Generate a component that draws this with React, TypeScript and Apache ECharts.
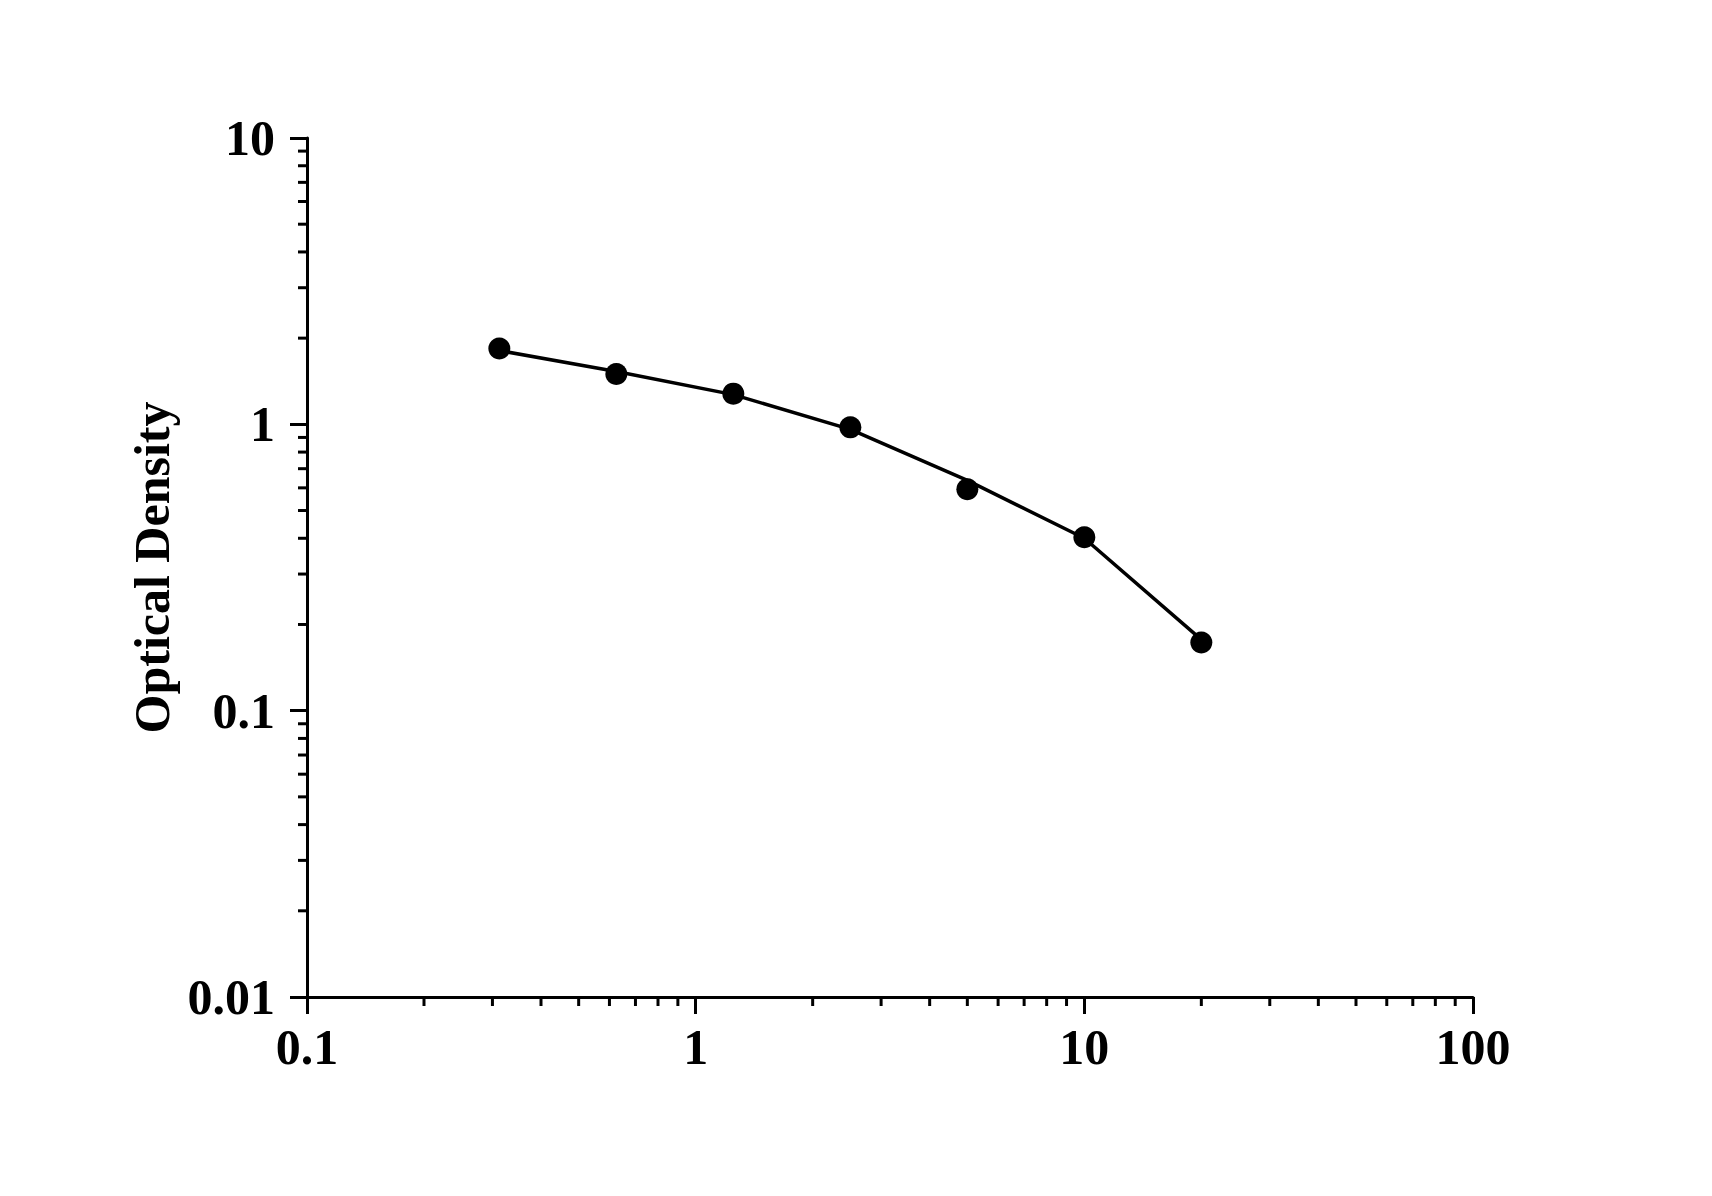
import React, { useEffect, useRef } from "react";
import * as echarts from "echarts";

const concentrations = [0.3125, 0.625, 1.25, 2.5, 5, 10, 20];
const measuredOD = [1.84, 1.5, 1.28, 0.976, 0.593, 0.403, 0.173];
const fittedOD = [1.81, 1.53, 1.27, 0.96, 0.637, 0.4, 0.177];
const xTickValues = [0.1, 1, 10, 100];
const yTickValues = [0.01, 0.1, 1, 10];
const minorMultipliers = [2, 3, 4, 5, 6, 7, 8, 9];

const FONT = "'Liberation Serif', 'Times New Roman', serif";

export default function App() {
  const ref = useRef<HTMLDivElement>(null);
  useEffect(() => {
    if (!ref.current) return;
    const chart = echarts.init(ref.current, null, { renderer: "svg" });
    const xMin = xTickValues[0];
    const xMax = xTickValues[xTickValues.length - 1];
    const yMin = yTickValues[0];
    const yMax = yTickValues[yTickValues.length - 1];

    const xMinor: number[][] = [];
    xTickValues.slice(0, -1).forEach((d) =>
      minorMultipliers.forEach((m) => xMinor.push([+(d * m).toPrecision(3), yMin, 0]))
    );
    const yMinor: number[][] = [];
    yTickValues.slice(0, -1).forEach((d) =>
      minorMultipliers.forEach((m) => yMinor.push([xMin, +(d * m).toPrecision(3), 1]))
    );

    const fmt = (v: number) => String(+Number(v).toPrecision(3));

    chart.setOption({
      animation: false,
      backgroundColor: "#ffffff",
      grid: { left: 307, right: 239, top: 138, bottom: 199, containLabel: false },
      xAxis: {
        type: "log",
        logBase: 10,
        min: xMin,
        max: xMax,
        axisLine: { show: true, lineStyle: { color: "#000", width: 3 } },
        axisTick: { show: true, length: 17, lineStyle: { color: "#000", width: 3 } },
        axisLabel: {
          color: "#000",
          fontFamily: FONT,
          fontWeight: "bold",
          fontSize: 50,
          margin: 25,
          formatter: fmt,
        },
        splitLine: { show: false },
        minorTick: { show: false },
      },
      yAxis: {
        type: "log",
        logBase: 10,
        min: yMin,
        max: yMax,
        name: "Optical Density",
        nameLocation: "middle",
        nameGap: 130,
        nameTextStyle: {
          color: "#000",
          fontFamily: FONT,
          fontWeight: "bold",
          fontSize: 50,
        },
        axisLine: { show: true, lineStyle: { color: "#000", width: 3 } },
        axisTick: { show: true, length: 17, lineStyle: { color: "#000", width: 3 } },
        axisLabel: {
          color: "#000",
          fontFamily: FONT,
          fontWeight: "bold",
          fontSize: 50,
          margin: 32,
          formatter: fmt,
        },
        splitLine: { show: false },
        minorTick: { show: false },
      },
      series: [
        {
          type: "custom",
          silent: true,
          clip: false,
          data: [...xMinor, ...yMinor],
          renderItem: (params: any, api: any) => {
            const p = api.coord([api.value(0), api.value(1)]);
            const isY = api.value(2) === 1;
            return {
              type: "line",
              shape: isY
                ? { x1: p[0], y1: p[1], x2: p[0] - 9, y2: p[1] }
                : { x1: p[0], y1: p[1], x2: p[0], y2: p[1] + 9 },
              style: { stroke: "#000", lineWidth: 3 },
            };
          },
          z: 1,
        },
        {
          type: "line",
          data: concentrations.map((c, i) => [c, fittedOD[i]]),
          showSymbol: false,
          symbol: "none",
          lineStyle: { color: "#000", width: 3.5, opacity: 1 },
          z: 2,
        },
        {
          type: "scatter",
          data: concentrations.map((c, i) => [c, measuredOD[i]]),
          symbol: "circle",
          symbolSize: 22,
          itemStyle: { color: "#000", opacity: 1 },
          z: 3,
        },
      ],
    });
    return () => chart.dispose();
  }, []);
  return (
    <div
      ref={ref}
      style={{ position: "absolute", left: 0, top: 0, width: 1712, height: 1196, background: "#fff" }}
    />
  );
}
